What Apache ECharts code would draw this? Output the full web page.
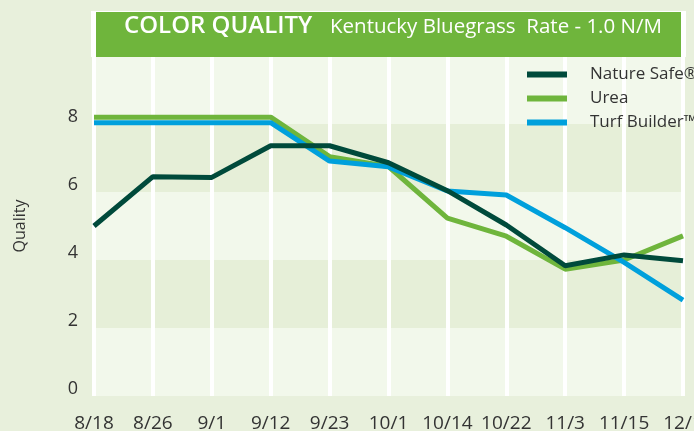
<!DOCTYPE html>
<html>
<head>
<meta charset="utf-8">
<script src="https://cdn.jsdelivr.net/npm/echarts@6/dist/echarts.min.js"></script>
<style>
  html, body { margin: 0; padding: 0; background: #e8f0dc; }
  #chart { width: 694px; height: 431px; }
</style>
</head>
<body>
<div id="chart"></div>
<script>
// 取样日期
const dates = ['8/18', '8/26', '9/1', '9/12', '9/23', '10/1', '10/14', '10/22', '11/3', '11/15', '12/1']
// 各产品色泽评分
const natureSafe = [5.0, 6.45, 6.43, 7.36, 7.36, 6.86, 6.04, 5.03, 3.83, 4.15, 3.98]
const urea = [8.2, 8.2, 8.2, 8.2, 7.04, 6.75, 5.23, 4.7, 3.73, 4.0, 4.71]
const turfBuilder = [8.04, 8.04, 8.04, 8.04, 6.91, 6.74, 6.03, 5.91, 4.95, 3.93, 2.82]
const yTicks = [0, 2, 4, 6, 8]

const font = 'Open Sans'
const chart = echarts.init(document.getElementById('chart'))

const lineSeries = (name, data, color, z) => ({
  name: name,
  type: 'line',
  data: data,
  symbol: 'none',
  z: z,
  lineStyle: { color: color, width: 5 },
  itemStyle: { color: color }
})

const option = {
  backgroundColor: '#e8f0dc',
  animation: false,
  textStyle: { fontFamily: font },
  grid: { left: 94, right: 11, top: 56, bottom: 35, containLabel: false, outerBoundsMode: 'none' },
  graphic: [
    { type: 'rect', shape: { x: 91, y: 11, width: 595, height: 46 }, style: { fill: '#ffffff' }, z: 10 },
    { type: 'rect', shape: { x: 96, y: 12, width: 585, height: 45 }, style: { fill: '#6fb53c' }, z: 11 },
    {
      type: 'text', left: 124, top: 14, z: 12,
      style: { text: 'COLOR QUALITY', fill: '#fff', font: '600 24px "Open Sans"' }
    },
    {
      type: 'text', left: 330, top: 17, z: 12,
      style: { text: 'Kentucky Bluegrass  Rate - 1.0 N/M', fill: '#fff', font: '20.5px "Open Sans"' }
    }
  ],
  legend: {
    left: 527,
    top: 66,
    padding: 0,
    orient: 'vertical',
    icon: 'rect',
    itemWidth: 40,
    itemHeight: 6,
    itemGap: 7,
    data: ['Nature Safe®', 'Urea', 'Turf Builder™'],
    textStyle: { fontSize: 17, color: '#333', fontFamily: font, padding: [0, 0, 0, 18] }
  },
  xAxis: {
    type: 'category',
    data: dates,
    boundaryGap: false,
    axisLine: { show: false },
    axisTick: { show: false },
    axisLabel: { color: '#333', fontSize: 19, margin: 18, interval: 0 },
    splitLine: { show: true, lineStyle: { color: '#ffffff', width: 4 } }
  },
  yAxis: {
    type: 'value',
    min: 0,
    max: 10,
    interval: 2,
    name: 'Quality',
    nameLocation: 'middle',
    nameGap: 66,
    nameTextStyle: { color: '#333', fontSize: 16 },
    axisLine: { show: false },
    axisTick: { show: false },
    axisLabel: {
      color: '#333',
      fontSize: 18,
      margin: 16,
      verticalAlign: 'bottom',
      lineHeight: 14,
      formatter: v => (yTicks.indexOf(v) >= 0 ? String(v) : '')
    },
    splitLine: { show: false },
    splitArea: { show: true, areaStyle: { color: ['#f2f8eb', '#e6efd8'] } }
  },
  series: [
    lineSeries('Urea', urea, '#6fb53c', 2),
    lineSeries('Turf Builder™', turfBuilder, '#00a0dc', 3),
    lineSeries('Nature Safe®', natureSafe, '#004a3b', 4)
  ]
}

chart.setOption(option)
</script>
</body>
</html>
